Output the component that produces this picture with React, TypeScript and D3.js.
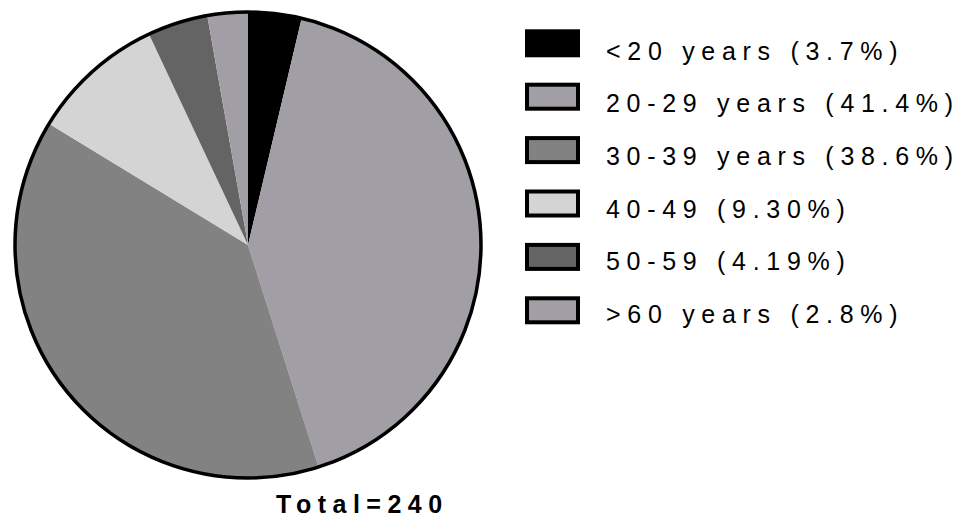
import React from "react";
import * as d3 from "d3";

// Age groups of the 240 participants
const groups = ["<20 years", "20-29 years", "30-39 years", "40-49", "50-59", ">60 years"];
const shares = [3.7, 41.4, 38.6, 9.3, 4.19, 2.8];
const shareLabels = ["3.7%", "41.4%", "38.6%", "9.30%", "4.19%", "2.8%"];
const fills = ["#000000", "#a19fa5", "#828282", "#d4d4d4", "#646464", "#a19fa5"];
const totalLabel = "Total=240";

const W = 963;
const H = 518;

export default function App() {
  const cx = 248;
  const cy = 245;
  const r = 233;

  const pie = d3
    .pie<number>()
    .sort(null)
    .value((d) => d)
    .startAngle(0)
    .endAngle(2 * Math.PI);
  const arcs = pie(shares);
  const arc = d3.arc<d3.PieArcDatum<number>>().innerRadius(0).outerRadius(r);

  const legendX = 527;
  const boxTop = d3.scaleLinear().domain([0, 1]).range([31.3, 31.3 + 53.4]);
  const textBase = d3.scaleLinear().domain([0, 1]).range([59.5, 59.5 + 52.7]);

  return (
    <svg
      width={W}
      height={H}
      style={{ position: "absolute", left: 0, top: 0, display: "block", background: "#fff" }}
      fontFamily="'Liberation Sans', Arial, sans-serif"
    >
      <g transform={`translate(${cx},${cy})`}>
        {arcs.map((a, i) => (
          <path key={i} d={arc(a) || ""} fill={fills[i]} stroke="none" />
        ))}
        <circle r={r} fill="none" stroke="#000" strokeWidth={3.5} />
      </g>

      {groups.map((g, i) => (
        <g key={g}>
          <rect
            x={legendX}
            y={boxTop(i)}
            width={51}
            height={24}
            fill={fills[i]}
            stroke="#000"
            strokeWidth={4}
          />
          <text x={606} y={textBase(i)} fontSize={25} letterSpacing={6.7} fill="#000">
            {`${g} (${shareLabels[i]})`}
          </text>
        </g>
      ))}

      <text x={276} y={513} fontSize={25} fontWeight="bold" letterSpacing={6.5} fill="#000">
        {totalLabel}
      </text>
    </svg>
  );
}
